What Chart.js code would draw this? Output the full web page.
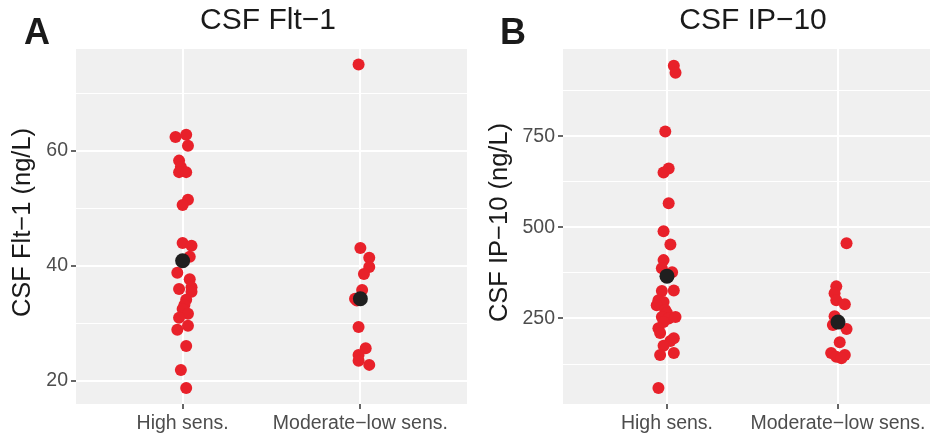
<!DOCTYPE html>
<html>
<head>
<meta charset="utf-8">
<script src="https://cdn.jsdelivr.net/npm/chart.js@4.4.1/dist/chart.umd.min.js"></script>
<style>
  body { margin: 0; background: #fff; }
  .wrap { position: relative; width: 930px; height: 436px; }
  canvas { position: absolute; top: 0; }
</style>
</head>
<body>
<div class="wrap">
  <canvas id="flt" width="470" height="436" style="left:0"></canvas>
  <canvas id="ip" width="460" height="436" style="left:470px"></canvas>
</div>
<script>
// groups on the x axis
const categories = ["High sens.", "Moderate\u2212low sens."];

// Panel A: CSF Flt-1 (ng/L)
const fltHigh = [62.4, 62.8, 60.9, 58.3, 57.2, 56.3, 56.3, 51.5, 50.6, 44.0, 43.5, 41.6, 38.8, 37.7,
                 36.3, 36.0, 35.5, 34.1, 33.2, 32.5, 31.7, 31.0, 29.6, 28.9, 26.1, 21.9, 18.8];
const fltHighJitter = [-0.04, 0.02, 0.03, -0.02, -0.01, -0.02, 0.02, 0.03, 0.0, 0.0, 0.05, 0.04, -0.03, 0.04,
                       0.05, -0.02, 0.05, 0.02, 0.01, 0.0, 0.03, -0.02, 0.03, -0.03, 0.02, -0.01, 0.02];
const fltLow = [75.0, 43.1, 41.4, 39.8, 38.6, 35.8, 34.3, 34.0, 29.4, 25.7, 24.5, 23.5, 22.8];
const fltLowJitter = [-0.01, 0.0, 0.05, 0.05, 0.02, 0.01, -0.03, -0.02, -0.01, 0.03, -0.01, -0.01, 0.05];
const fltMeans = [40.9, 34.3];
const fltMajor = [20, 40, 60];
const fltGrid = [20, 30, 40, 50, 60, 70];

// Panel B: CSF IP-10 (ng/L)
const ipHigh = [943, 924, 763, 661, 650, 566, 489, 453, 410, 388, 377, 325, 327, 300, 295, 286, 273, 265,
                254, 250, 254, 240, 223, 210, 196, 188, 175, 150, 155, 59];
const ipHighJitter = [0.04, 0.05, -0.01, 0.01, -0.02, 0.01, -0.02, 0.02, -0.02, -0.03, 0.03, -0.03, 0.04, -0.05, -0.02, -0.06, -0.01, 0.0,
                      -0.03, 0.01, 0.05, -0.02, -0.05, -0.04, 0.04, 0.02, -0.02, -0.04, 0.04, -0.05];
const ipLow = [456, 338, 319, 300, 289, 256, 232, 221, 185, 155, 150, 145, 141];
const ipLowJitter = [0.05, -0.01, -0.02, -0.01, 0.04, -0.02, -0.03, 0.05, 0.01, -0.04, 0.04, -0.01, 0.02];
const ipMeans = [366, 240];
const ipMajor = [250, 500, 750];
const ipGrid = [125, 250, 375, 500, 625, 750, 875];

const FONT = "'Liberation Sans', Arial, sans-serif";
Chart.defaults.font.family = FONT;

const panelText = {
  id: 'panelText',
  beforeDraw(chart, args, opts) {
    const a = chart.chartArea, ctx = chart.ctx;
    ctx.save();
    ctx.fillStyle = '#f0f0f0';
    ctx.fillRect(a.left, a.top, a.right - a.left, a.bottom - a.top);
    ctx.restore();
  },
  afterDraw(chart, args, opts) {
    const a = chart.chartArea, ctx = chart.ctx;
    ctx.save();
    ctx.fillStyle = '#1a1a1a';
    ctx.font = 'bold 36px ' + FONT;
    ctx.textAlign = 'left';
    ctx.textBaseline = 'alphabetic';
    ctx.fillText(opts.letter, opts.letterX, 44);
    ctx.font = '30px ' + FONT;
    ctx.textAlign = 'center';
    ctx.textBaseline = 'middle';
    ctx.fillText(opts.title, opts.titleX, 21);
    ctx.translate(opts.yTitleX, (a.top + a.bottom) / 2 - 4);
    ctx.rotate(-Math.PI / 2);
    ctx.font = '25.5px ' + FONT;
    ctx.fillText(opts.yTitle, 0, 0);
    ctx.restore();
  }
};

function points(values, jitter, group) {
  return values.map((v, i) => ({ x: group + jitter[i], y: v }));
}

function makePanel(id, cfg) {
  return new Chart(document.getElementById(id), {
    type: 'scatter',
    data: {
      datasets: [
        {
          data: points(cfg.high, cfg.highJitter, 1).concat(points(cfg.low, cfg.lowJitter, 2)),
          backgroundColor: '#e8212a',
          borderWidth: 0,
          pointRadius: 6,
          order: 1
        },
        {
          data: cfg.means.map((m, i) => ({ x: i + 1, y: m })),
          backgroundColor: '#1f1f1f',
          borderWidth: 0,
          pointRadius: 7.5,
          order: 0
        }
      ]
    },
    options: {
      responsive: false,
      animation: false,
      devicePixelRatio: 1,
      layout: { autoPadding: false, padding: { top: 49, right: cfg.padRight, bottom: 0, left: 0 } },
      plugins: {
        legend: { display: false },
        tooltip: { enabled: false },
        panelText: { letter: cfg.letter, letterX: cfg.letterX, title: cfg.title, titleX: cfg.titleX, yTitle: cfg.yTitle, yTitleX: cfg.yTitleX }
      },
      scales: {
        x: {
          type: 'linear',
          min: cfg.xMin,
          max: cfg.xMax,
          afterBuildTicks: s => { s.ticks = [{ value: 1 }, { value: 2 }]; },
          afterFit: s => { s.height = 32; s.paddingLeft = 0; s.paddingRight = 0; },
          border: { display: false },
          grid: { color: '#ffffff', lineWidth: 2, tickColor: '#333333', tickLength: 5, tickWidth: 1.5 },
          ticks: {
            autoSkip: false, maxRotation: 0, padding: 3,
            color: '#4d4d4d', font: { size: 19.5 },
            callback: v => categories[v - 1]
          }
        },
        y: {
          type: 'linear',
          min: cfg.yMin,
          max: cfg.yMax,
          afterBuildTicks: s => { s.ticks = cfg.grid.map(v => ({ value: v })); },
          afterFit: s => { s.width = cfg.yWidth; s.paddingTop = 0; s.paddingBottom = 0; },
          border: { display: false },
          grid: {
            color: '#ffffff',
            lineWidth: c => cfg.major.includes(c.tick.value) ? 2 : 1,
            tickColor: c => cfg.major.includes(c.tick.value) ? '#333333' : 'rgba(0,0,0,0)',
            tickLength: 5,
            tickWidth: 1.5
          },
          ticks: {
            padding: 3,
            color: '#4d4d4d', font: { size: 19.5 },
            callback: v => cfg.major.includes(v) ? String(v) : ''
          }
        }
      }
    },
    plugins: [panelText]
  });
}

makePanel('flt', {
  high: fltHigh, highJitter: fltHighJitter, low: fltLow, lowJitter: fltLowJitter,
  means: fltMeans, major: fltMajor, grid: fltGrid,
  xMin: 0.4, xMax: 2.6, yMin: 16.0, yMax: 77.7, yWidth: 76, padRight: 3,
  letter: 'A', letterX: 24, title: 'CSF Flt\u22121', titleX: 268,
  yTitle: 'CSF Flt\u22121 (ng/L)', yTitleX: 23
});

makePanel('ip', {
  high: ipHigh, highJitter: ipHighJitter, low: ipLow, lowJitter: ipLowJitter,
  means: ipMeans, major: ipMajor, grid: ipGrid,
  xMin: 0.392, xMax: 2.538, yMin: 15.4, yMax: 989, yWidth: 93, padRight: 0,
  letter: 'B', letterX: 30, title: 'CSF IP\u221210', titleX: 283,
  yTitle: 'CSF IP\u221210 (ng/L)', yTitleX: 30
});
</script>
</body>
</html>
